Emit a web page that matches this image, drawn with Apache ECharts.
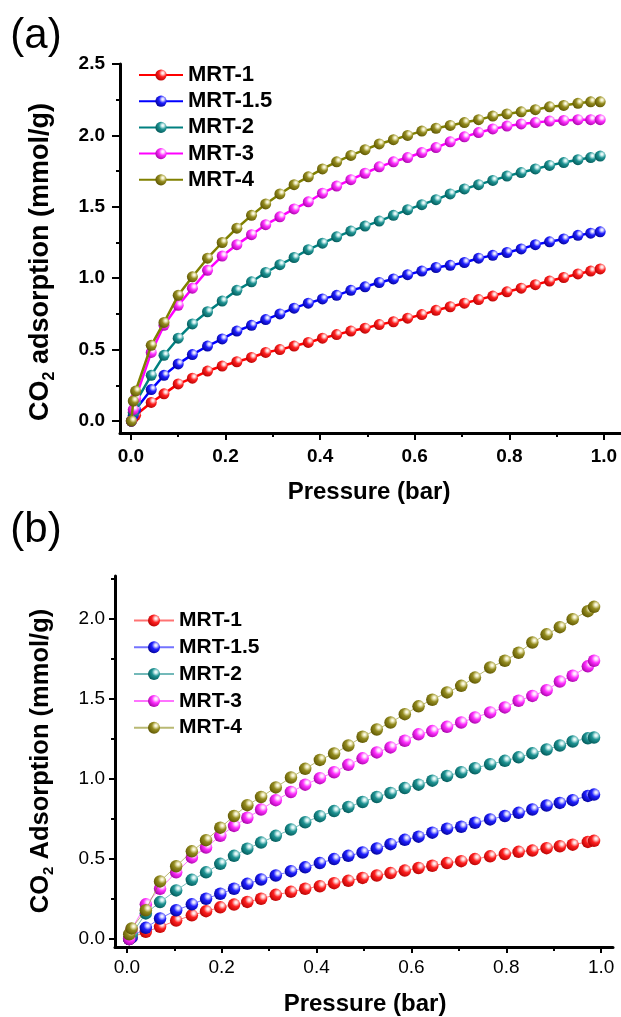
<!DOCTYPE html>
<html>
<head>
<meta charset="utf-8">
<script src="https://cdn.jsdelivr.net/npm/echarts@6/dist/echarts.min.js"></script>
<style>
html,body{margin:0;padding:0;background:#fff;}
#c{width:621px;height:1017px;}
</style>
</head>
<body>
<div id="c"></div>
<script>
// ---------- data ----------
const seriesNames = ['MRT-1', 'MRT-1.5', 'MRT-2', 'MRT-3', 'MRT-4'];

// Panel (a)
const xA = [0.001, 0.005, 0.01, 0.043, 0.07, 0.1, 0.13, 0.162, 0.193, 0.224, 0.255, 0.285, 0.315, 0.345, 0.375, 0.405, 0.435, 0.465, 0.495, 0.525, 0.555, 0.585, 0.615, 0.645, 0.675, 0.705, 0.735, 0.765, 0.795, 0.825, 0.855, 0.885, 0.915, 0.945, 0.972, 0.992];
const a_MRT1  = [0.0, 0.02, 0.04, 0.13, 0.19, 0.26, 0.30, 0.35, 0.385, 0.415, 0.445, 0.48, 0.50, 0.525, 0.55, 0.58, 0.605, 0.63, 0.65, 0.675, 0.695, 0.72, 0.745, 0.775, 0.80, 0.825, 0.85, 0.875, 0.905, 0.93, 0.955, 0.98, 1.005, 1.03, 1.05, 1.065];
const a_MRT15 = [0.0, 0.04, 0.08, 0.22, 0.32, 0.40, 0.465, 0.525, 0.575, 0.63, 0.67, 0.71, 0.75, 0.79, 0.825, 0.855, 0.88, 0.915, 0.94, 0.97, 0.995, 1.025, 1.05, 1.075, 1.09, 1.11, 1.14, 1.16, 1.18, 1.205, 1.235, 1.255, 1.275, 1.3, 1.315, 1.325];
const a_MRT2  = [0.0, 0.06, 0.13, 0.32, 0.46, 0.58, 0.68, 0.765, 0.84, 0.915, 0.975, 1.04, 1.095, 1.145, 1.2, 1.245, 1.29, 1.33, 1.365, 1.40, 1.44, 1.48, 1.515, 1.55, 1.59, 1.625, 1.655, 1.685, 1.715, 1.74, 1.765, 1.79, 1.81, 1.83, 1.845, 1.855];
const a_MRT3  = [0.0, 0.08, 0.16, 0.48, 0.67, 0.81, 0.93, 1.055, 1.155, 1.235, 1.305, 1.375, 1.43, 1.485, 1.535, 1.595, 1.645, 1.69, 1.735, 1.78, 1.815, 1.845, 1.88, 1.915, 1.955, 1.99, 2.02, 2.045, 2.065, 2.08, 2.09, 2.1, 2.105, 2.11, 2.11, 2.11];
const a_MRT4  = [0.0, 0.14, 0.21, 0.53, 0.69, 0.88, 1.01, 1.14, 1.25, 1.35, 1.44, 1.52, 1.59, 1.655, 1.71, 1.765, 1.815, 1.86, 1.9, 1.94, 1.97, 2.0, 2.03, 2.05, 2.07, 2.09, 2.11, 2.135, 2.15, 2.165, 2.18, 2.2, 2.21, 2.225, 2.235, 2.235];

// Panel (b)
const xB = [0.005, 0.01, 0.04, 0.07, 0.104, 0.137, 0.167, 0.197, 0.226, 0.254, 0.283, 0.314, 0.346, 0.376, 0.407, 0.437, 0.467, 0.497, 0.527, 0.556, 0.586, 0.615, 0.644, 0.675, 0.705, 0.734, 0.766, 0.797, 0.826, 0.855, 0.885, 0.913, 0.94, 0.972, 0.985];
const b_MRT1  = [0.0, 0.01, 0.045, 0.076, 0.115, 0.148, 0.174, 0.198, 0.215, 0.232, 0.252, 0.276, 0.295, 0.314, 0.33, 0.349, 0.364, 0.382, 0.397, 0.412, 0.428, 0.444, 0.458, 0.475, 0.487, 0.5, 0.517, 0.531, 0.545, 0.553, 0.568, 0.58, 0.59, 0.607, 0.614];
const b_MRT15 = [0.0, 0.01, 0.07, 0.128, 0.18, 0.217, 0.252, 0.283, 0.314, 0.345, 0.372, 0.397, 0.424, 0.448, 0.475, 0.5, 0.52, 0.541, 0.566, 0.593, 0.62, 0.64, 0.665, 0.69, 0.702, 0.727, 0.748, 0.769, 0.789, 0.81, 0.835, 0.851, 0.868, 0.895, 0.903];
const b_MRT2  = [0.0, 0.03, 0.16, 0.231, 0.304, 0.37, 0.417, 0.47, 0.52, 0.565, 0.603, 0.645, 0.685, 0.73, 0.768, 0.80, 0.826, 0.857, 0.888, 0.913, 0.944, 0.965, 0.99, 1.02, 1.043, 1.068, 1.093, 1.114, 1.136, 1.161, 1.185, 1.21, 1.235, 1.255, 1.26];
const b_MRT3  = [0.0, 0.06, 0.217, 0.314, 0.417, 0.51, 0.572, 0.645, 0.707, 0.758, 0.81, 0.868, 0.919, 0.965, 1.006, 1.043, 1.089, 1.13, 1.167, 1.198, 1.24, 1.28, 1.30, 1.327, 1.354, 1.385, 1.417, 1.448, 1.49, 1.52, 1.556, 1.61, 1.646, 1.705, 1.74];
const b_MRT4  = [0.03, 0.066, 0.18, 0.36, 0.455, 0.548, 0.618, 0.696, 0.769, 0.837, 0.888, 0.948, 1.01, 1.064, 1.12, 1.16, 1.21, 1.265, 1.31, 1.354, 1.406, 1.455, 1.496, 1.542, 1.583, 1.635, 1.698, 1.74, 1.79, 1.854, 1.905, 1.95, 2.0, 2.05, 2.077];

// tick values
const xTicks  = [0, 0.2, 0.4, 0.6, 0.8, 1.0];
const xMinor  = [0.1, 0.3, 0.5, 0.7, 0.9];
const yTicksA = [0, 0.5, 1.0, 1.5, 2.0, 2.5];
const yMinorA = [0.25, 0.75, 1.25, 1.75, 2.25];
const yTicksB = [0, 0.5, 1.0, 1.5, 2.0];
const yMinorB = [0.25, 0.75, 1.25, 1.75, 2.25];

// ---------- styles ----------
const FONT = 'Arial, "Liberation Sans", sans-serif';
const lineColors = ['#ff0000', '#0000ff', '#008080', '#ff00ff', '#808000'];
const sphere = [
  ['#ffd6d6', '#ff2020', '#b00000'],
  ['#d6d6ff', '#2020ff', '#000090'],
  ['#d0f0f0', '#1f9393', '#005555'],
  ['#ffe0ff', '#ff30ff', '#a000a0'],
  ['#f0ecc0', '#948c20', '#5a5200']
];
function sphereFill(i) {
  return {
    type: 'radial', x: 0.66, y: 0.33, r: 0.75,
    colorStops: [
      {offset: 0, color: '#ffffff'},
      {offset: 0.15, color: sphere[i][0]},
      {offset: 0.45, color: sphere[i][1]},
      {offset: 1, color: sphere[i][2]}
    ]
  };
}

const dataA = [a_MRT1, a_MRT15, a_MRT2, a_MRT3, a_MRT4];
const dataB = [b_MRT1, b_MRT15, b_MRT2, b_MRT3, b_MRT4];

const series = [];
seriesNames.forEach((n, i) => {
  series.push({
    type: 'line', name: n, xAxisIndex: 0, yAxisIndex: 0,
    data: xA.map((x, j) => [x, dataA[i][j]]),
    symbol: 'circle', symbolSize: 11, showAllSymbol: true,
    itemStyle: {color: sphereFill(i), borderWidth: 0},
    lineStyle: {color: lineColors[i], width: 2.5},
    emphasis: {disabled: true}, z: 2 + i
  });
});
seriesNames.forEach((n, i) => {
  series.push({
    type: 'line', name: n + ' (b)', xAxisIndex: 2, yAxisIndex: 2,
    data: xB.map((x, j) => [x, dataB[i][j]]),
    symbol: 'circle', symbolSize: 12.5, showAllSymbol: true,
    itemStyle: {color: sphereFill(i), borderWidth: 0},
    lineStyle: {color: lineColors[i], width: 1, opacity: 0.55},
    emphasis: {disabled: true}, z: 2 + i
  });
});

function majorX(grid, min, max, labelWeight, margin, tickLen) {
  return {
    gridIndex: grid, type: 'value', position: 'bottom', min: min, max: max,
    axisLine: {show: true, onZero: false, lineStyle: {color: '#000', width: 3}},
    axisTick: {show: true, inside: false, length: tickLen, customValues: xTicks, lineStyle: {color: '#000', width: 2}},
    axisLabel: {show: true, customValues: xTicks, formatter: v => (+v).toFixed(1), fontFamily: FONT, fontWeight: labelWeight, fontSize: 19, color: '#000', margin: margin},
    splitLine: {show: false}, minorTick: {show: false}
  };
}
function minorX(grid, min, max) {
  return {
    gridIndex: grid, type: 'value', position: 'bottom', min: min, max: max,
    axisLine: {show: false, onZero: false},
    axisTick: {show: true, inside: false, length: 4, customValues: xMinor, lineStyle: {color: '#000', width: 2}},
    axisLabel: {show: false}, splitLine: {show: false}
  };
}
function majorY(grid, min, max, ticks, labelWeight, margin, tickLen) {
  return {
    gridIndex: grid, type: 'value', position: 'left', min: min, max: max,
    axisLine: {show: true, onZero: false, lineStyle: {color: '#000', width: 3}},
    axisTick: {show: true, inside: false, length: tickLen, customValues: ticks, lineStyle: {color: '#000', width: 2}},
    axisLabel: {show: true, customValues: ticks, formatter: v => (+v).toFixed(1), fontFamily: FONT, fontWeight: labelWeight, fontSize: 19, color: '#000', margin: margin},
    splitLine: {show: false}
  };
}
function minorY(grid, min, max, ticks) {
  return {
    gridIndex: grid, type: 'value', position: 'left', min: min, max: max,
    axisLine: {show: false, onZero: false},
    axisTick: {show: true, inside: false, length: 4, customValues: ticks, lineStyle: {color: '#000', width: 2}},
    axisLabel: {show: false}, splitLine: {show: false}
  };
}

function yTitle(x, y, word, size) {
  const s = Math.round(size * 0.6);
  return {
    type: 'text', x: x, y: y, rotation: Math.PI / 2,
    style: {
      text: '{a|CO}{s|2}{a| ' + word + ' (mmol/g)}',
      align: 'center', verticalAlign: 'middle',
      rich: {
        a: {fontFamily: FONT, fontWeight: 'bold', fontSize: size, lineHeight: size + 6, fill: '#000', color: '#000'},
        s: {fontFamily: FONT, fontWeight: 'bold', fontSize: s, lineHeight: s + 2, verticalAlign: 'bottom', fill: '#000', color: '#000'}
      }
    }
  };
}
function plainText(x, y, text, size, weight) {
  return {
    type: 'text', x: x, y: y,
    style: {text: text, fontFamily: FONT, fontWeight: weight, fontSize: size, fill: '#000', align: 'center', verticalAlign: 'middle'}
  };
}

const option = {
  animation: false,
  backgroundColor: '#ffffff',
  grid: [
    {left: 120, top: 64, width: 501, height: 369, containLabel: false, outerBoundsMode: 'none'},
    {left: 115, top: 576, width: 498, height: 371, containLabel: false, outerBoundsMode: 'none'}
  ],
  xAxis: [
    majorX(0, -0.023, 1.036, 'bold', 14, 7),
    minorX(0, -0.023, 1.036),
    majorX(1, -0.025, 1.025, 'normal', 11, 6),
    minorX(1, -0.025, 1.025)
  ],
  yAxis: [
    majorY(0, -0.084, 2.5, yTicksA, 'bold', 15, 8),
    minorY(0, -0.084, 2.5, yMinorA),
    majorY(1, -0.05, 2.27, yTicksB, 'normal', 10, 6),
    minorY(1, -0.05, 2.27, yMinorB)
  ],
  legend: [
    {
      orient: 'vertical', left: 138, top: 64, padding: 0,
      itemWidth: 44, itemHeight: 14, itemGap: 4.2,
      data: seriesNames,
      textStyle: {fontFamily: FONT, fontWeight: 'bold', fontSize: 22, color: '#000'},
      selectedMode: false
    },
    {
      orient: 'vertical', left: 133, top: 610, padding: 0,
      itemWidth: 40, itemHeight: 15, itemGap: 5.8,
      data: seriesNames.map(n => n + ' (b)'),
      formatter: name => name.replace(' (b)', ''),
      textStyle: {fontFamily: FONT, fontWeight: 'bold', fontSize: 21, color: '#000'},
      selectedMode: false
    }
  ],
  graphic: [
    plainText(36, 36, '(a)', 42, 'normal'),
    plainText(36, 530, '(b)', 42, 'normal'),
    yTitle(41, 262, 'adsorption', 27),
    yTitle(41, 761, 'Adsorption', 25.5),
    plainText(369, 492, 'Pressure (bar)', 24, 'bold'),
    plainText(365, 1004, 'Pressure (bar)', 24, 'bold')
  ],
  series: series
};

const chart = echarts.init(document.getElementById('c'), null, {renderer: 'canvas'});
chart.setOption(option);
</script>
</body>
</html>
